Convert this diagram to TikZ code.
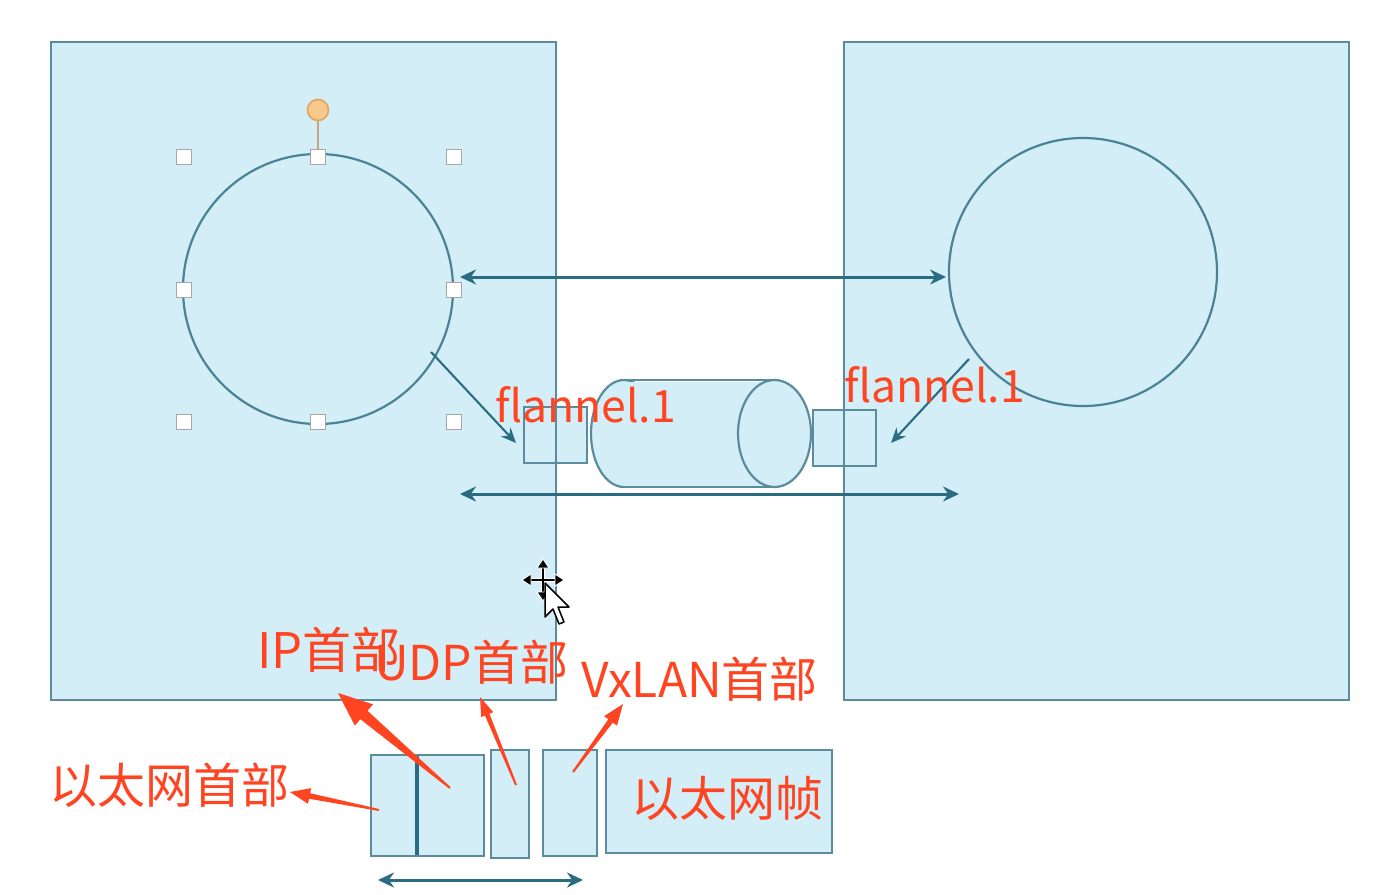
\documentclass[tikz,border=0pt]{standalone}
\usepackage{fontspec}
\setmainfont{Noto Sans CJK SC}
\newfontfamily\cjk{Noto Sans CJK SC}
\usetikzlibrary{arrows.meta,calc}
\definecolor{panel}{HTML}{D4EEF7}
\definecolor{edge}{HTML}{5A8C9D}
\definecolor{tealdark}{HTML}{2A6D83}
\definecolor{annot}{HTML}{FF4422}
\definecolor{hgray}{HTML}{A6A6A6}
\definecolor{horange}{HTML}{F9C98C}
\definecolor{horangeedge}{HTML}{E2A45E}
\definecolor{hstick}{HTML}{C9A27E}
\tikzset{
  panelbox/.style={draw=edge, fill=panel, line width=2.4pt, inner sep=0pt, outer sep=0pt},
  smallbox/.style={draw=edge, fill=panel, line width=2.2pt, inner sep=0pt, outer sep=0pt},
  hostcircle/.style={circle, draw=tealdark!85, line width=2.2pt, inner sep=0pt, outer sep=0pt},
  hsq/.style={draw=hgray, fill=white, line width=1.8pt, minimum size=15pt, inner sep=0pt},
  biarrow/.style={draw=tealdark, line width=3pt, {Stealth[length=16pt,width=15pt]}-{Stealth[length=16pt,width=15pt]}},
  diagarrow/.style={draw=tealdark, line width=2.1pt, -{Stealth[length=15pt,width=13pt]}},
  redlabel/.style={text=annot, inner sep=0pt, anchor=base west},
}
\newcommand\annarrow[5]{%
  \coordinate (nk) at ($(#2)!#3!(#1)$);
  \fill[annot] ($(#1)!1pt!90:(#2)$) -- ($(nk)!#5!90:(#2)$) -- ($(nk)!#4!90:(#2)$) -- (#2)
    -- ($(nk)!#4!-90:(#2)$) -- ($(nk)!#5!-90:(#2)$) -- ($(#1)!1pt!-90:(#2)$) -- cycle;
}
\begin{document}
\begin{tikzpicture}[x=1pt,y=-1pt]
\useasboundingbox (0,0) rectangle (1380,894);
\fill[white] (0,0) rectangle (1380,894);

% panels
\node[panelbox, minimum width=505pt, minimum height=658pt] (hostL) at (303.5,371) {};
\node[panelbox, minimum width=505pt, minimum height=658pt] (hostR) at (1096.5,371) {};

% circles
\node[hostcircle, minimum size=270pt] (cL) at (318,289) {};
\node[hostcircle, minimum size=268pt] (cR) at (1083,272) {};

% selection handles
\node[hsq] (h1) at (184,157) {};
\node[hsq] (h2) at (318,157) {};
\node[hsq] (h3) at (454,157) {};
\node[hsq] (h4) at (184,290) {};
\node[hsq] (h5) at (454,290) {};
\node[hsq] (h6) at (184,422) {};
\node[hsq] (h7) at (318,422) {};
\node[hsq] (h8) at (454,422) {};
\node[circle, draw=horangeedge, fill=horange, line width=1.6pt, minimum size=21pt, inner sep=0pt] (rot) at (318,110) {};
\draw[hstick, line width=2.6pt] (rot.south) -- (h2.north);

% flannel boxes
\node[smallbox, minimum width=63pt, minimum height=56pt] (fl1) at (555.5,435) {};
\node[smallbox, minimum width=63pt, minimum height=56pt] (fl2) at (844.5,438) {};

% cylinder
\draw[edge, fill=panel, line width=2.2pt] (624,433.5) ellipse [x radius=33, y radius=53.5];
\fill[panel] (624,381.5) rectangle (774.5,485.5);
\draw[edge, line width=2.2pt] (624,380) -- (774.5,380);
\draw[edge, line width=2.2pt] (624,487) -- (774.5,487);
\draw[edge, fill=panel, line width=2.2pt] (774.5,433.5) ellipse [x radius=36.5, y radius=53.5];
\coordinate (tun) at (700,433.5);

% panel borders redrawn on top
\draw[edge, line width=2.4pt] (hostL.north west) rectangle (hostL.south east);
\draw[edge, line width=2.4pt] (hostR.north west) rectangle (hostR.south east);

% connectors
\coordinate (ta) at (460,277);
\coordinate (tb) at (946,277);
\draw[biarrow] (ta) -- (tb);
\coordinate (ba) at (460,494);
\coordinate (bb) at (959,494);
\draw[biarrow] (ba) -- (bb);
\coordinate (dLs) at (431,352);
\coordinate (dLe) at (516,443);
\draw[diagarrow] (dLs) -- (dLe);
\coordinate (dRs) at (969,359);
\coordinate (dRe) at (891,443);
\draw[diagarrow] (dRs) -- (dRe);

% flannel labels
\node[redlabel, font=\fontsize{44.5pt}{50pt}\selectfont] (lf1) at (495,422) {flannel.1};
\node[redlabel, font=\fontsize{44.5pt}{50pt}\selectfont] (lf2) at (844,402) {flannel.1};

% bottom packet boxes
\node[smallbox, minimum width=113pt, minimum height=101pt] (eth) at (427.5,805.5) {};
\draw[tealdark, line width=3.4pt] (417,756) -- (417,855);
\node[smallbox, minimum width=38pt, minimum height=108pt] (udp) at (510,804) {};
\node[smallbox, minimum width=54pt, minimum height=106pt] (vx) at (570,803) {};
\node[smallbox, minimum width=226pt, minimum height=103pt] (frame) at (719,801.5) {};
\node[redlabel, font=\fontsize{48pt}{54pt}\selectfont] (lframe) at (631,816) {以太网帧};

\coordinate (pa) at (378,880);
\coordinate (pb) at (583,880);
\draw[biarrow] (pa) -- (pb);

% annotation labels
\node[redlabel, font=\fontsize{49pt}{54pt}\selectfont] (lip) at (257,668) {IP首部};
\node[redlabel, font=\fontsize{48pt}{54pt}\selectfont] (ludp) at (374,680) {UDP首部};
\node[redlabel, font=\fontsize{48pt}{54pt}\selectfont] (lvx) at (581,697) {VxLAN首部};
\node[redlabel, font=\fontsize{48pt}{54pt}\selectfont] (leth) at (49,803) {以太网首部};

% red annotation arrows
\coordinate (r1t) at (379,810); \coordinate (r1h) at (290,792);
\annarrow{r1t}{r1h}{20pt}{8pt}{2.8pt}
\coordinate (r2t) at (450,788); \coordinate (r2h) at (338,693);
\annarrow{r2t}{r2h}{34pt}{14pt}{5.5pt}
\coordinate (r3t) at (516,785); \coordinate (r3h) at (480,697);
\annarrow{r3t}{r3h}{19pt}{6.5pt}{2.4pt}
\coordinate (r4t) at (573,772); \coordinate (r4h) at (623,704);
\annarrow{r4t}{r4h}{21pt}{8pt}{2.8pt}

% mouse cursor (move + pointer)
\coordinate (mc) at (543,580);
\begin{scope}[shift={(mc)}]
  \draw[white, line width=4.5pt] (-17,0) -- (17,0) (0,-17) -- (0,17);
  \draw[black, line width=2pt] (-15,0) -- (15,0) (0,-15) -- (0,15);
  \fill[black, draw=white, line width=0.9pt] (-21,0) -- (-12,-6) -- (-12,6) -- cycle;
  \fill[black, draw=white, line width=0.9pt] (21,0) -- (12,-6) -- (12,6) -- cycle;
  \fill[black, draw=white, line width=0.9pt] (0,-21) -- (-6,-12) -- (6,-12) -- cycle;
  \fill[black, draw=white, line width=0.9pt] (0,21) -- (-6,12) -- (6,12) -- cycle;
\end{scope}
\draw[black, fill=white, line width=1.5pt, line join=round]
  (545,583) -- (545,617) -- (553,609) -- (559,624) -- (564,622) -- (558,607) -- (569,607) -- cycle;
\end{tikzpicture}
\end{document}
